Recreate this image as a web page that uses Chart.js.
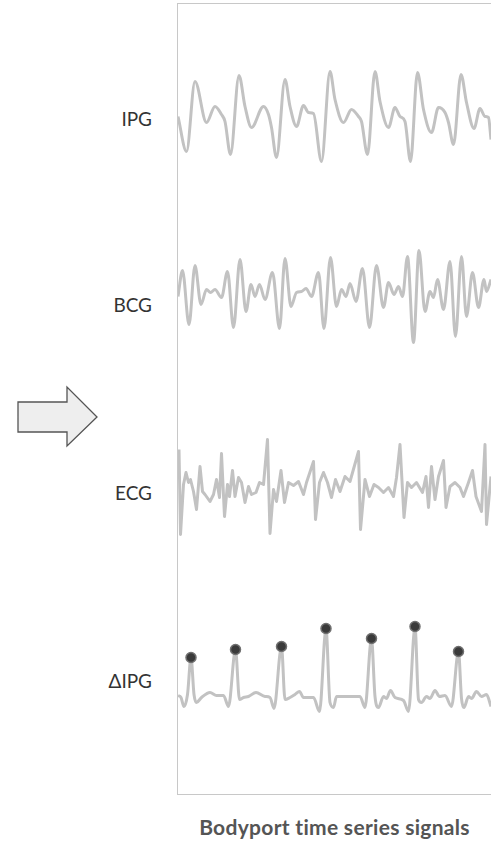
<!DOCTYPE html>
<html>
<head>
<meta charset="utf-8">
<title>Bodyport time series signals</title>
<script src="https://cdn.jsdelivr.net/npm/chart.js@4.4.1/dist/chart.umd.min.js"></script>
<style>
  html, body { margin: 0; padding: 0; background: #fff; }
  body { width: 491px; height: 841px; overflow: hidden; position: relative; font-family: Lato, "Open Sans", sans-serif; }
  #box { position: absolute; left: 177px; top: 3px; width: 340px; height: 790px;
         border: 1.5px solid #c8c8c8; border-right: none; }
  #box canvas { display: block; }
  .lbl { position: absolute; right: 339px; font-size: 19px; color: #333; line-height: 1; transform: translateY(-50%); }
  #title { position: absolute; left: 178px; width: 313px; top: 814px; text-align: center;
           font-size: 21px; letter-spacing: 0.3px; font-weight: bold; color: #555; }
  #arrow { position: absolute; left: 0; top: 0; }
</style>
</head>
<body>
<svg id="arrow" width="120" height="841">
  <polygon points="18,402 67,402 67,387 97,417 67,446 67,432 18,432" fill="#eeeeee" stroke="#555" stroke-width="1.3"/>
</svg>
<div class="lbl" style="top:118px">IPG</div>
<div class="lbl" style="top:304px">BCG</div>
<div class="lbl" style="top:492px">ECG</div>
<div class="lbl" style="top:680px">ΔIPG</div>
<div id="box"><canvas id="signals" width="340" height="790"></canvas></div>
<div id="title">Bodyport time series signals</div>

<script>
// time in seconds, amplitude in arbitrary units
var ipgT = [0.00, 0.17, 0.34, 0.57, 0.74, 0.87, 0.94, 1.05, 1.22, 1.34, 1.47, 1.71, 1.81, 1.87, 1.97, 2.14, 2.24, 2.37, 2.51, 2.61, 2.71, 2.87, 3.04, 3.14, 3.31, 3.47, 3.61, 3.67, 3.79, 3.94, 4.04, 4.21, 4.34, 4.44, 4.54, 4.65, 4.79, 4.91, 5.07, 5.21, 5.34, 5.41, 5.51, 5.66, 5.77, 5.92, 6.04, 6.14, 6.21, 6.26];
var ipgV = [-0.2, -3.7, 3.3, -0.8, 0.8, 0.0, -0.7, -4.0, 3.9, 0.8, -1.3, 0.8, 0.0, -1.3, -4.3, 3.5, 0.8, -1.2, 0.9, 0.2, 0.1, -4.7, 4.3, 1.5, -0.8, 0.5, -0.2, -0.7, -4.0, 4.3, 1.3, -1.3, 0.7, -0.2, -0.7, -4.7, 4.2, 0.5, -1.8, 0.7, 0.2, -0.8, -3.0, 4.0, 1.2, -1.4, 0.6, -0.2, -0.3, -2.5];

var bcgT = [0.00, 0.09, 0.22, 0.34, 0.46, 0.57, 0.65, 0.74, 0.87, 0.99, 1.11, 1.24, 1.36, 1.46, 1.54, 1.63, 1.74, 1.89, 2.03, 2.14, 2.26, 2.37, 2.47, 2.56, 2.67, 2.81, 2.92, 3.05, 3.17, 3.27, 3.36, 3.44, 3.56, 3.69, 3.83, 3.97, 4.11, 4.21, 4.32, 4.41, 4.49, 4.59, 4.71, 4.82, 4.94, 5.04, 5.11, 5.19, 5.31, 5.44, 5.55, 5.67, 5.77, 5.89, 6.01, 6.12, 6.17, 6.26];
var bcgV = [-0.5, 2.1, -3.3, 2.6, -1.3, 0.2, -0.1, 0.2, -0.6, 2.0, -3.6, 3.2, -2.0, 0.7, -0.5, 0.7, -0.8, 1.9, -3.7, 3.3, -1.5, -0.1, 0.0, 0.3, -0.5, 1.9, -3.7, 3.4, -1.5, 0.2, -0.5, 0.8, -1.0, 2.3, -3.6, 2.6, -1.6, 0.9, -0.3, 0.5, -0.5, 3.5, -5.1, 4.1, -2.0, 0.0, -0.6, 1.2, -1.8, 3.0, -4.5, 3.5, -2.5, 1.9, -1.6, 1.2, 0.0, 1.2];

var ecgT = [0.02, 0.05, 0.11, 0.16, 0.21, 0.25, 0.31, 0.37, 0.44, 0.49, 0.54, 0.64, 0.71, 0.77, 0.83, 0.87, 0.93, 0.99, 1.03, 1.09, 1.14, 1.21, 1.27, 1.34, 1.41, 1.47, 1.56, 1.63, 1.71, 1.79, 1.84, 1.91, 1.97, 2.06, 2.13, 2.21, 2.31, 2.41, 2.51, 2.57, 2.71, 2.75, 2.83, 2.91, 2.99, 3.07, 3.15, 3.24, 3.34, 3.44, 3.61, 3.65, 3.74, 3.83, 3.92, 4.01, 4.11, 4.21, 4.31, 4.37, 4.44, 4.52, 4.59, 4.67, 4.77, 4.89, 4.96, 5.01, 5.07, 5.14, 5.21, 5.31, 5.36, 5.44, 5.54, 5.64, 5.71, 5.81, 5.89, 5.96, 6.07, 6.14, 6.17, 6.26];
var ecgV = [4.2, -4.3, 0.7, 1.9, 0.9, 1.2, 0.0, -1.8, 2.5, 0.0, -0.3, -1.0, -0.3, 1.2, -0.6, 3.8, -2.5, 0.7, -0.5, 2.1, -0.5, 1.4, 0.9, -1.1, 0.5, -0.3, -0.1, 0.9, 0.7, 5.2, -4.2, 0.2, -1.0, 2.1, -1.1, 0.9, 0.6, 1.0, -0.3, 0.9, 3.0, -2.8, 0.9, 1.9, 0.9, -0.6, 1.2, 0.0, 1.5, 1.0, 4.0, -3.8, 1.2, -0.5, 0.7, 0.4, -0.1, 0.4, -0.5, 1.4, 4.7, -2.6, 0.9, 0.4, 0.9, -0.1, 1.5, -1.6, 2.5, -0.8, 1.5, 3.1, -1.6, 0.5, 0.9, 0.4, -0.5, 0.9, 2.1, -0.5, -2.0, 4.7, -3.3, 1.5];

var dipgT = [0.00, 0.06, 0.12, 0.19, 0.26, 0.32, 0.37, 0.47, 0.64, 0.77, 0.91, 1.01, 1.15, 1.23, 1.31, 1.41, 1.56, 1.74, 1.84, 1.92, 2.07, 2.14, 2.24, 2.34, 2.43, 2.51, 2.71, 2.83, 2.96, 3.04, 3.11, 3.17, 3.37, 3.64, 3.74, 3.87, 3.94, 4.01, 4.11, 4.17, 4.25, 4.34, 4.51, 4.61, 4.74, 4.81, 4.87, 4.97, 5.04, 5.14, 5.23, 5.34, 5.47, 5.61, 5.67, 5.72, 5.81, 5.87, 5.97, 6.07, 6.17, 6.26];
var dipgV = [0.1, -0.1, -1.0, 0.2, 3.9, 0.2, -0.6, -0.1, 0.4, 0.1, 0.1, -1.0, 4.7, -0.3, -0.1, 0.0, 0.4, 0.0, -0.1, -1.2, 5.0, -0.3, -0.1, 0.2, 0.5, -0.1, -0.1, -1.5, 6.8, -0.6, -1.1, 0.0, 0.0, 0.0, -1.1, 5.8, 0.0, -1.1, 0.0, -0.2, 0.6, -0.1, -0.4, -1.5, 7.0, -0.3, -0.6, 0.0, -0.2, 0.6, 0.0, 0.1, -1.0, 4.5, -0.2, -1.1, 0.0, -0.2, 0.5, 0.0, 0.2, -1.0];

var peakLevel = 3; // ΔIPG samples above this get a marker

function pts(t, v) {
    return t.map(function (x, i) { return { x: x, y: v[i] }; });
}

var grey = '#c2c2c2';

function signalAxis(min, max) {
    return {
        type: 'linear', position: 'left', stack: 'signals', stackWeight: 1,
        min: min, max: max, display: false
    };
}

new Chart(document.getElementById('signals'), {
    type: 'line',
    data: {
        datasets: [
            { label: 'IPG', data: pts(ipgT, ipgV), yAxisID: 'yIPG', borderColor: grey, cubicInterpolationMode: 'monotone' },
            { label: 'BCG', data: pts(bcgT, bcgV), yAxisID: 'yBCG', borderColor: grey, cubicInterpolationMode: 'monotone' },
            { label: 'ECG', data: pts(ecgT, ecgV), yAxisID: 'yECG', borderColor: grey, tension: 0 },
            {
                label: 'ΔIPG', data: pts(dipgT, dipgV), yAxisID: 'yDIPG', borderColor: grey, cubicInterpolationMode: 'monotone',
                pointRadius: function (c) { return c.parsed && c.parsed.y > peakLevel ? 5 : 0; },
                pointBackgroundColor: '#3a3a3a',
                pointBorderColor: '#707070',
                pointBorderWidth: 1.5
            }
        ]
    },
    options: {
        responsive: false,
        animation: false,
        events: [],
        layout: { padding: 0 },
        datasets: {
            line: { borderWidth: 3, pointRadius: 0, fill: false, borderJoinStyle: 'round' }
        },
        plugins: { colors: { enabled: false }, legend: { display: false }, tooltip: { enabled: false } },
        scales: {
            x: { type: 'linear', min: 0, max: 6.26 * 340 / 313, display: false },
            // stacked boxes are laid out bottom-up in this order
            yDIPG: signalAxis(-9.75, 10.0),
            yECG: signalAxis(-10.5, 9.25),
            yBCG: signalAxis(-10.75, 9.0),
            yIPG: signalAxis(-8.7, 11.05)
        }
    }
});
</script>
</body>
</html>
